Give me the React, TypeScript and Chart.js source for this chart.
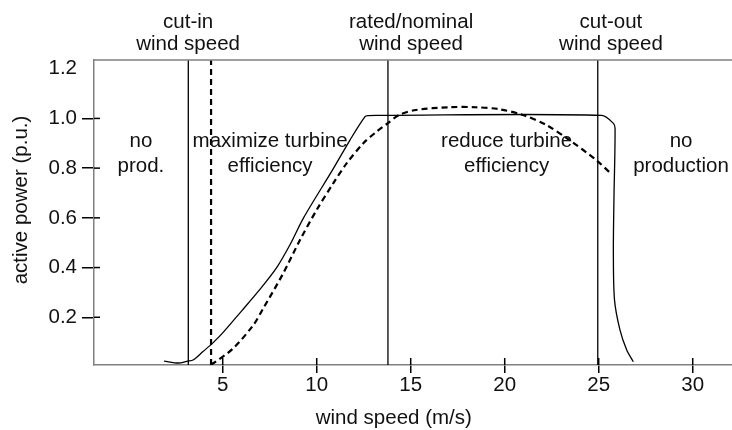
import React, { useEffect, useRef } from "react";
import { Chart, registerables } from "chart.js";

Chart.register(...registerables);

// ---- data ----
const powerWind = [1.88, 2.64, 3.15, 3.42, 3.95, 4.48, 5.0, 6.0, 6.9, 7.87, 8.6, 9.3, 10.9, 11.77, 12.57, 12.74, 13.2, 25.16, 25.78, 25.87, 25.81, 25.78, 25.84, 26.13, 26.49, 26.84];
const powerOut = [0.024, 0.016, 0.024, 0.028, 0.062, 0.097, 0.137, 0.225, 0.305, 0.4, 0.495, 0.6, 0.8, 0.913, 1.007, 1.011, 1.012, 1.012, 0.98, 0.96, 0.672, 0.459, 0.27, 0.149, 0.068, 0.021];

const dashWind = [4.38, 4.5, 5.56, 6.63, 7.16, 8.22, 9.11, 10.0, 10.88, 11.6, 12.48, 13.19, 13.79, 14.39, 15.28, 17.05, 18.47, 19.71, 20.96, 22.2, 23.44, 24.86, 25.69];
const dashOut = [0.012, 0.015, 0.075, 0.169, 0.236, 0.377, 0.511, 0.632, 0.739, 0.82, 0.9, 0.947, 0.981, 1.014, 1.034, 1.045, 1.045, 1.037, 1.014, 0.974, 0.913, 0.833, 0.775];

const xTickValues = [5, 10, 15, 20, 25, 30];
const yTickValues = [0.2, 0.4, 0.6, 0.8, 1.0, 1.2];
const yTickMarks = [0.2, 0.4, 0.6, 0.8, 1.0];

const cutInSpeed = 3.17;
const cutInDashedSpeed = 4.38;
const ratedSpeed = 13.79;
const cutOutSpeed = 24.95;

const topLabelX = [3.16, 15.02, 25.65];
const topLabelLines = [
  ["cut-in", "wind speed"],
  ["rated/nominal", "wind speed"],
  ["cut-out", "wind speed"],
];
const regionLabelX = [0.65, 7.52, 20.1, 29.38];
const regionLabelLines = [
  ["no", "prod."],
  ["maximize turbine", "efficiency"],
  ["reduce turbine", "efficiency"],
  ["no", "production"],
];
const xTitle = "wind speed (m/s)";
const yTitle = "active power (p.u.)";

const X_MIN = -1.846;
const X_MAX = 32.09;
const Y_MIN = 0.008;
const Y_MAX = 1.235;

// ---- styles ----
const FONT = "'Liberation Sans', Arial, Helvetica, sans-serif";
const FS = 20.5;
const AXIS_GRAY = "#808080";
const INK = "#111111";

const toPts = (xs: number[], ys: number[]) => xs.map((x, i) => ({ x, y: ys[i] }));
const vline = (v: number) => [
  { x: v, y: Y_MIN },
  { x: v, y: Y_MAX },
];

const annotPlugin = {
  id: "annot",
  afterDraw(chart: any) {
    const { ctx, chartArea, scales } = chart;
    const { left, right, top, bottom } = chartArea;
    const xs = scales.x;
    const ys = scales.y;
    ctx.save();
    // top frame line
    ctx.strokeStyle = AXIS_GRAY;
    ctx.lineWidth = 1.5;
    ctx.beginPath();
    ctx.moveTo(left, top);
    ctx.lineTo(right, top);
    ctx.stroke();
    // inner parts of tick marks
    ctx.strokeStyle = "#000";
    ctx.lineWidth = 1.5;
    yTickMarks.forEach((v) => {
      const py = ys.getPixelForValue(v);
      ctx.beginPath();
      ctx.moveTo(left, py);
      ctx.lineTo(left + 6, py);
      ctx.stroke();
    });
    xTickValues.forEach((v) => {
      const px = xs.getPixelForValue(v);
      ctx.beginPath();
      ctx.moveTo(px, bottom - 7);
      ctx.lineTo(px, bottom);
      ctx.stroke();
    });
    // texts
    ctx.fillStyle = INK;
    ctx.font = `${FS}px ${FONT}`;
    ctx.textAlign = "center";
    ctx.textBaseline = "alphabetic";
    topLabelX.forEach((v, i) => {
      const px = xs.getPixelForValue(v);
      ctx.fillText(topLabelLines[i][0], px, top - 32);
      ctx.fillText(topLabelLines[i][1], px, top - 10);
    });
    regionLabelX.forEach((v, i) => {
      const px = xs.getPixelForValue(v);
      ctx.fillText(regionLabelLines[i][0], px, top + 87);
      ctx.fillText(regionLabelLines[i][1], px, top + 112);
    });
    // axis titles
    ctx.fillText(xTitle, xs.getPixelForValue(14.1), bottom + 59);
    ctx.translate(27, top + 140);
    ctx.rotate(-Math.PI / 2);
    ctx.fillText(yTitle, 0, 0);
    ctx.restore();
  },
};

export default function App() {
  const ref = useRef<HTMLCanvasElement | null>(null);
  useEffect(() => {
    if (!ref.current) return;
    Chart.defaults.font.family = FONT;
    const chart = new Chart(ref.current, {
      type: "scatter",
      data: {
        datasets: [
          {
            label: "power curve",
            data: toPts(powerWind, powerOut),
            showLine: true,
            borderColor: "#000",
            borderWidth: 1.3,
            pointRadius: 0,
            tension: 0.3,
          },
          {
            label: "modified curve",
            data: toPts(dashWind, dashOut),
            showLine: true,
            borderColor: "#000",
            borderWidth: 2.2,
            borderDash: [6, 4],
            pointRadius: 0,
            tension: 0.3,
          },
          {
            label: "cut-in",
            data: vline(cutInSpeed),
            showLine: true,
            borderColor: "#000",
            borderWidth: 1.3,
            pointRadius: 0,
          },
          {
            label: "cut-in dashed",
            data: vline(cutInDashedSpeed),
            showLine: true,
            borderColor: "#000",
            borderWidth: 2.2,
            borderDash: [6, 4],
            pointRadius: 0,
          },
          {
            label: "rated",
            data: vline(ratedSpeed),
            showLine: true,
            borderColor: "#000",
            borderWidth: 1.3,
            pointRadius: 0,
          },
          {
            label: "cut-out",
            data: vline(cutOutSpeed),
            showLine: true,
            borderColor: "#000",
            borderWidth: 1.3,
            pointRadius: 0,
          },
        ],
      },
      options: {
        responsive: false,
        maintainAspectRatio: false,
        animation: false,
        layout: { padding: { top: 60, left: 0, right: 0, bottom: 0 } },
        plugins: {
          legend: { display: false },
          tooltip: { enabled: false },
          title: { display: false },
        },
        scales: {
          x: {
            type: "linear",
            min: X_MIN,
            max: X_MAX,
            afterBuildTicks: (s: any) => {
              s.ticks = xTickValues.map((v) => ({ value: v }));
            },
            afterFit: (s: any) => {
              s.height = 65;
            },
            grid: {
              drawOnChartArea: false,
              drawTicks: true,
              tickLength: 8,
              color: "#000",
              lineWidth: 1.5,
            },
            border: { color: AXIS_GRAY, width: 1.5 },
            ticks: {
              color: INK,
              font: { size: FS, family: FONT },
              padding: 0,
              maxRotation: 0,
              autoSkip: false,
              callback: (v: any) => String(v),
            },
          },
          y: {
            type: "linear",
            min: Y_MIN,
            max: Y_MAX,
            afterBuildTicks: (s: any) => {
              s.ticks = yTickValues.map((v) => ({ value: v }));
            },
            afterFit: (s: any) => {
              s.width = 94;
            },
            grid: {
              drawOnChartArea: false,
              drawTicks: true,
              tickLength: 12,
              color: (c: any) => (c.tick && c.tick.value > 1.1 ? "rgba(0,0,0,0)" : "#000"),
              lineWidth: 1.5,
            },
            border: { color: AXIS_GRAY, width: 1.5 },
            ticks: {
              color: INK,
              font: { size: FS, family: FONT },
              padding: 5,
              autoSkip: false,
              callback: (v: any) => Number(v).toFixed(1),
            },
          },
        },
      },
      plugins: [annotPlugin],
    });
    return () => chart.destroy();
  }, []);
  return (
    <div style={{ position: "absolute", left: 0, top: 0, width: 732, height: 430, background: "#fff" }}>
      <canvas ref={ref} width={732} height={430} style={{ display: "block" }} />
    </div>
  );
}
